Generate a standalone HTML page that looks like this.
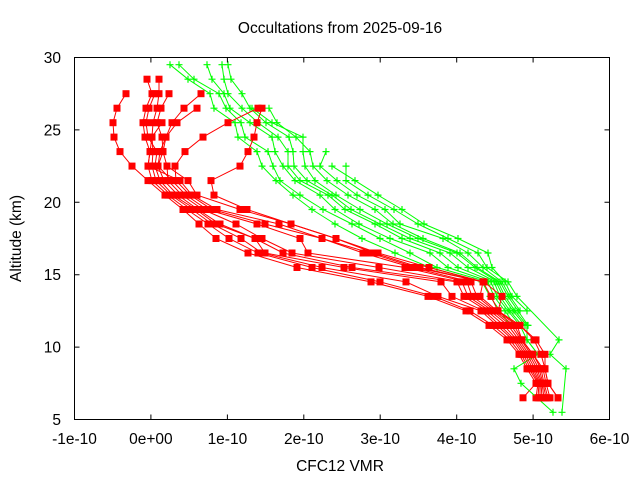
<!DOCTYPE html>
<html><head><meta charset="utf-8"><style>
html,body{margin:0;padding:0;background:#fff}
svg{display:block}
text{font-family:"Liberation Sans",Arial,sans-serif;font-size:15.5px;fill:#000}
.r{fill:none;stroke:#f00;stroke-width:1;marker-start:url(#sq);marker-mid:url(#sq);marker-end:url(#sq)}
.g{fill:none;stroke:#0f0;stroke-width:1;marker-start:url(#pl);marker-mid:url(#pl);marker-end:url(#pl)}
</style></head><body>
<svg width="640" height="480" viewBox="0 0 640 480" xmlns="http://www.w3.org/2000/svg">
<defs>
<marker id="sq" markerUnits="userSpaceOnUse" markerWidth="8" markerHeight="8" refX="3.5" refY="3.5" overflow="visible"><rect x="0" y="0" width="7" height="7" fill="#f00"/></marker>
<marker id="pl" markerUnits="userSpaceOnUse" markerWidth="9" markerHeight="9" refX="3.5" refY="3.5" overflow="visible"><path d="M0 3.5H7M3.5 0V7" stroke="#0f0" stroke-width="1.2" fill="none"/></marker>
</defs>
<rect width="640" height="480" fill="#fff"/>

<!-- series -->
<polyline class="g" points="170,64.7 188,79.2 210,93.7 214,108.2 235,122.7 238,137.1 257,151.6 262,166.1 276,180.6 293,195.1 312,209.5 335,224 362,238.5 395,253 430,267.5 482,281.9 490,296.4 500,310.9 510,325.4"/>
<polyline class="r" points="126,93.7 117,108.2 113,122.7 114,137.1 120,151.6 132,166.1 148,180.6 165,195.1 183,209.5 199,224 216,238.5 248,253 297,267.5 371,281.9 428,296.4 466,310.9 489,325.4 507,339.9 519,354.3 527,368.8 536,383.3 523,397.8"/>
<polyline class="g" points="179,64.7 194,79.2 219,93.7 226,108.2 241,122.7 245,137.1 268,151.6 273,166.1 280,180.6 300,195.1 323,209.5 352,224 380,238.5 410,253 437,267.5 488,281.9 494,296.4 505,310.9 515,325.4"/>
<polyline class="r" points="147,79.2 152,93.7 146,108.2 143,122.7 145,137.1 150,151.6 148,166.1 152,180.6 168,195.1 187,209.5 208,224 229,238.5 258,253 312,267.5 380,281.9 434,296.4 470,310.9 493,325.4 510,339.9 521,354.3 529,368.8 538,383.3 536,397.8"/>
<polyline class="g" points="207,64.7 212,79.2 224,93.7 230,108.2 250,122.7 272,137.1 275,151.6 283,166.1 295,180.6 320,195.1 335,209.5 359,224 390,238.5 430,253 448,267.5 491,281.9 497,296.4 508,310.9 520,325.4 527,339.9 538,354.3 514,368.8 521,383.3 553,412.3"/>
<polyline class="r" points="159,79.2 159,93.7 157,108.2 153,122.7 152,137.1 153,151.6 152,166.1 156,180.6 171,195.1 192,209.5 212,224 241,238.5 262,253 322,267.5 406,281.9 438,296.4 481,310.9 497,325.4 513,339.9 523,354.3 531,368.8 539,383.3 538,397.8"/>
<polyline class="g" points="222,64.7 224,79.2 228,93.7 242,108.2 258,122.7 278,137.1 288,151.6 288,166.1 300,180.6 328,195.1 345,209.5 375,224 402,238.5 440,253 458,267.5 494,281.9 500,296.4 510,310.9 522,325.4"/>
<polyline class="r" points="155,93.7 149,108.2 146,122.7 148,137.1 157,151.6 155,166.1 160,180.6 173,195.1 196,209.5 216,224 255,238.5 265,253 344,267.5 441,281.9 452,296.4 484,310.9 500,325.4 515,339.9 525,354.3 533,368.8 540,383.3 540,397.8"/>
<polyline class="g" points="228,64.7 231,79.2 242,93.7 250,108.2 266,122.7 289,137.1 293,151.6 294,166.1 307,180.6 332,195.1 351,209.5 380,224 410,238.5 450,253 468,267.5 496,281.9 503,296.4 513,310.9 525,325.4"/>
<polyline class="r" points="169,93.7 161,108.2 157,122.7 162,137.1 163,151.6 158,166.1 164,180.6 178,195.1 198,209.5 220,224 255,238.5 283,253 352,267.5 457,281.9 464,296.4 487,310.9 504,325.4 517,339.9 527,354.3 535,368.8 541,383.3 542,397.8"/>
<polyline class="g" points="252,108.2 272,122.7 303,137.1 303,151.6 305,166.1 315,180.6 336,195.1 360,209.5 387,224 418,238.5 457,253 475,267.5 498,281.9 505,296.4 515,310.9 527,325.4 527,339.9 538,354.3"/>
<polyline class="r" points="201,93.7 184,108.2 172,122.7 166,137.1 163,151.6 167,166.1 168,180.6 182,195.1 203,209.5 236,224 262,238.5 292,253 379,267.5 462,281.9 468,296.4 490,310.9 508,325.4 519,339.9 529,354.3 537,368.8 542,383.3 544,397.8"/>
<polyline class="g" points="269,108.2 277,122.7 296,137.1 310,151.6 313,166.1 327,180.6 348,195.1 375,209.5 393,224 423,238.5 460,253 477,267.5 500,281.9 508,296.4 518,310.9 528,325.4"/>
<polyline class="r" points="197,108.2 177,122.7 166,137.1 160,151.6 158,166.1 172,180.6 186,195.1 207,209.5 257,224 300,238.5 308,253 405,267.5 467,281.9 472,296.4 493,310.9 511,325.4 521,339.9 531,354.3 539,368.8 543,383.3 546,397.8"/>
<polyline class="g" points="326,151.6 320,166.1 337,180.6 357,195.1 385,209.5 400,224 443,238.5 468,253 483,267.5 502,281.9 510,296.4 520,310.9"/>
<polyline class="r" points="258,108.2 228,122.7 203,137.1 185,151.6 175,166.1 176,180.6 190,195.1 212,209.5 265,224 322,238.5 363,253 412,267.5 471,281.9 477,296.4 495,310.9 514,325.4 522,339.9 533,354.3 541,368.8 544,383.3 548,397.8"/>
<polyline class="g" points="332,166.1 355,180.6 378,195.1 402,209.5 424,224 458,238.5 488,253 492,267.5 505,281.9 512,296.4 527,310.9"/>
<polyline class="r" points="162,122.7 152,137.1 150,151.6 148,166.1 180,180.6 192,195.1 217,209.5 279,224 322,238.5 370,253 416,267.5 483,281.9 480,296.4 497,310.9 517,325.4 522,339.9 533,354.3 543,368.8 546,383.3 550,397.8"/>
<polyline class="g" points="346,166.1 346,180.6 368,195.1 394,209.5 418,224 448,238.5 478,253 487,267.5 508,281.9 517,296.4 559,339.9 550,354.3 566,368.8 562,412.3"/>
<polyline class="r" points="167,166.1 188,180.6 197,195.1 240,209.5 291,224 336,238.5 374,253 420,267.5 483,281.9 491,296.4 498,310.9 520,325.4 534,339.9 541,354.3 545,368.8 548,383.3 558,397.8"/>
<polyline class="r" points="262,108.2 257,122.7 254,137.1 248,151.6 240,166.1 211,180.6 214,195.1 247,209.5 291,224 336,238.5 378,253 429,267.5 484,281.9 502,296.4 498,310.9 520,325.4 536,339.9 545,354.3 545,368.8 548,383.3 558,397.8"/>

<!-- frame and ticks -->
<g stroke="#000" stroke-width="1" fill="none">
<rect x="74.5" y="57.5" width="535" height="362"/>
<path d="M150.9 419.5v-5M227.4 419.5v-5M303.8 419.5v-5M380.2 419.5v-5M456.7 419.5v-5M533.1 419.5v-5
M150.9 57.5v5M227.4 57.5v5M303.8 57.5v5M380.2 57.5v5M456.7 57.5v5M533.1 57.5v5
M74.5 347.1h5M74.5 274.7h5M74.5 202.3h5M74.5 129.9h5
M609.5 347.1h-5M609.5 274.7h-5M609.5 202.3h-5M609.5 129.9h-5"/>
</g>

<!-- labels -->
<text x="340" y="33" text-anchor="middle">Occultations from 2025-09-16</text>
<g text-anchor="end">
<text x="61" y="63">30</text>
<text x="61" y="135.4">25</text>
<text x="61" y="207.8">20</text>
<text x="61" y="280.2">15</text>
<text x="61" y="352.6">10</text>
<text x="61" y="425">5</text>
</g>
<g text-anchor="middle">
<text x="74.5" y="444">-1e-10</text>
<text x="150.9" y="444">0e+00</text>
<text x="227.4" y="444">1e-10</text>
<text x="303.8" y="444">2e-10</text>
<text x="380.2" y="444">3e-10</text>
<text x="456.7" y="444">4e-10</text>
<text x="533.1" y="444">5e-10</text>
<text x="609.5" y="444">6e-10</text>
<text x="340" y="471">CFC12 VMR</text>
<text transform="translate(21,238.5) rotate(-90)" x="0" y="0">Altitude (km)</text>
</g>
</svg>
</body></html>
